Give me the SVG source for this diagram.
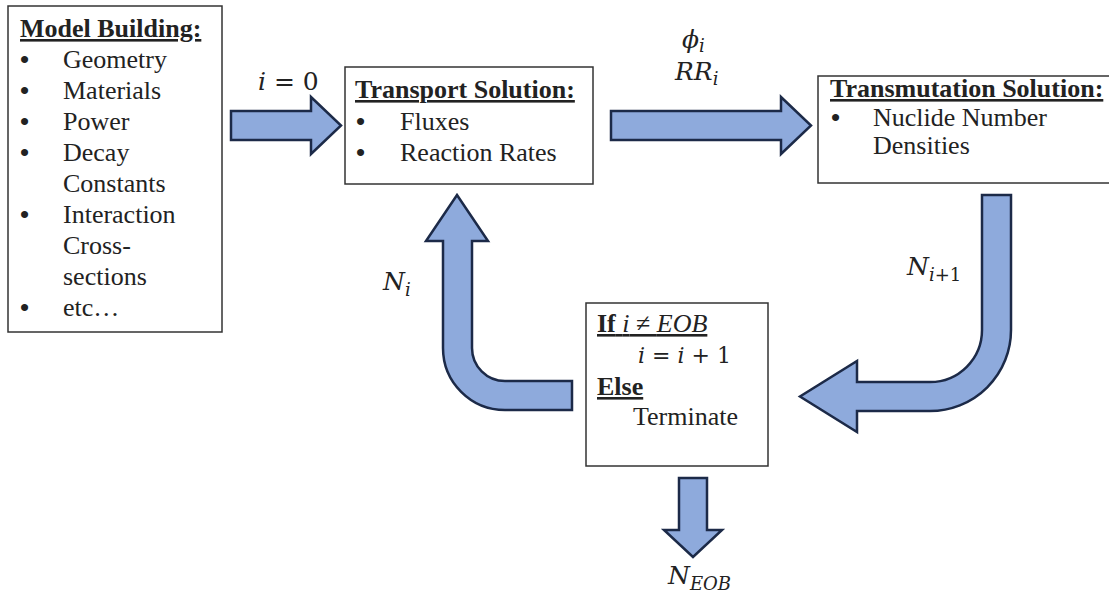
<svg xmlns="http://www.w3.org/2000/svg" width="1109" height="598" viewBox="0 0 1109 598">
  <style>
    .box { fill: #ffffff; stroke: #333333; stroke-width: 1.5; }
    .arrow { fill: #8eaadc; stroke: #1c2a48; stroke-width: 2.5; stroke-linejoin: miter; }
    .t { font-family: "Liberation Serif", "DejaVu Serif", serif; font-size: 26px; fill: #222222; }
    .h { font-weight: bold; text-decoration: underline; }
    .b { font-family: "Liberation Serif", "DejaVu Serif", serif; font-size: 26px; font-weight: bold; fill: #222222; }
    .m { font-family: "DejaVu Serif", "Liberation Serif", serif; font-size: 25px; fill: #222222; }
    .v { font-style: italic; }
    .sub { font-size: 18px; font-style: italic; }
    .subn { font-size: 18px; }
  </style>
  <rect width="1109" height="598" fill="#ffffff"/>

  <!-- connectors -->
  <g id="connectors">
    <!-- model -> transport -->
    <path class="arrow" d="M231,111 L311,111 L311,97 L341,125.5 L311,154 L311,140 L231,140 Z"/>
    <!-- transport -> transmutation -->
    <path class="arrow" d="M611,111 L781,111 L781,97 L811,125.5 L781,154 L781,140 L611,140 Z"/>
    <!-- transmutation -> decision -->
    <path class="arrow" d="M982,195 L1011,195 L1011,330 A81,81 0 0 1 930,411 L857,411 L857,432 L800,396.5 L857,361 L857,382 L930,382 A52,52 0 0 0 982,330 Z"/>
    <!-- decision -> transport -->
    <path class="arrow" d="M457,195 L488,241 L472,241 L472,348 A33,33 0 0 0 505,381 L572,381 L572,410 L505,410 A62,62 0 0 1 443,348 L443,241 L426,241 Z"/>
    <!-- decision -> output -->
    <path class="arrow" d="M679,478 L707,478 L707,530 L722,530 L693,557 L664,530 L679,530 Z"/>

    <!-- labels -->
    <text class="m" x="258" y="90"><tspan class="v">i</tspan> = 0</text>
    <text class="m" x="682" y="48"><tspan class="v">ϕ</tspan><tspan class="sub" dy="4">i</tspan></text>
    <text class="m" x="675" y="80"><tspan class="v">RR</tspan><tspan class="sub" dy="5">i</tspan></text>
    <text class="m" x="907" y="275"><tspan class="v">N</tspan><tspan class="sub" dy="6">i</tspan><tspan class="subn">+1</tspan></text>
    <text class="m" x="383" y="290"><tspan class="v">N</tspan><tspan class="sub" dy="6">i</tspan></text>
    <text class="m" x="668" y="584"><tspan class="v">N</tspan><tspan class="sub" dy="6">EOB</tspan></text>
  </g>

  <!-- Model Building -->
  <g id="model">
    <rect class="box" x="8" y="6" width="214" height="326"/>
    <text class="t h" x="20" y="37">Model Building:</text>
    <text class="b" x="20" y="68">•</text><text class="t" x="63" y="68">Geometry</text>
    <text class="b" x="20" y="99">•</text><text class="t" x="63" y="99">Materials</text>
    <text class="b" x="20" y="130">•</text><text class="t" x="63" y="130">Power</text>
    <text class="b" x="20" y="161">•</text><text class="t" x="63" y="161">Decay</text>
    <text class="t" x="63" y="192">Constants</text>
    <text class="b" x="20" y="223">•</text><text class="t" x="63" y="223">Interaction</text>
    <text class="t" x="63" y="254">Cross-</text>
    <text class="t" x="63" y="285">sections</text>
    <text class="b" x="20" y="316">•</text><text class="t" x="63" y="316">etc…</text>
  </g>

  <!-- Transport Solution -->
  <g id="transport">
    <rect class="box" x="345" y="67" width="248" height="117"/>
    <text class="t h" x="355" y="98">Transport Solution:</text>
    <text class="b" x="356" y="130">•</text><text class="t" x="400" y="130">Fluxes</text>
    <text class="b" x="356" y="161">•</text><text class="t" x="400" y="161">Reaction Rates</text>
  </g>

  <!-- Transmutation Solution -->
  <g id="transmutation">
    <rect class="box" x="818" y="76" width="300" height="107"/>
    <text class="t h" x="830" y="97">Transmutation Solution:</text>
    <text class="b" x="831" y="126">•</text><text class="t" x="873" y="126">Nuclide Number</text>
    <text class="t" x="873" y="154">Densities</text>
  </g>

  <!-- Decision -->
  <g id="decision">
    <rect class="box" x="586" y="303" width="182" height="163"/>
    <text class="t" x="597" y="332" text-decoration="underline"><tspan font-weight="bold">If</tspan> <tspan class="v">i</tspan> ≠ <tspan class="v">EOB</tspan></text>
    <text class="m" x="638" y="363" style="font-size:22px"><tspan class="v">i</tspan> = <tspan class="v">i</tspan> + 1</text>
    <text class="t h" x="597" y="395">Else</text>
    <text class="t" x="633" y="425">Terminate</text>
  </g>
</svg>
